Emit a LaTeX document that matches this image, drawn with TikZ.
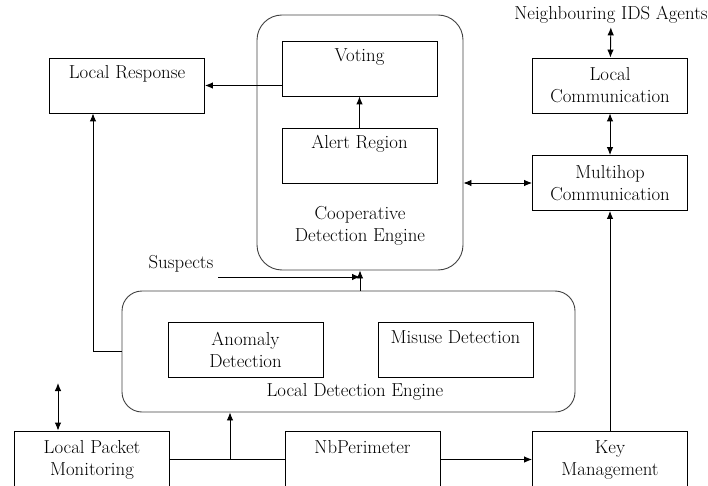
\documentclass[tikz,border=0pt]{standalone}
\usetikzlibrary{positioning, arrows.meta}

\begin{document}
\begin{tikzpicture}[x=1pt, y=-1pt, >={Latex[length=8pt,width=6.5pt]}, line width=0.9pt,
	every node/.style={font=\fontsize{18.8}{22}\selectfont},
	box/.style={draw, rectangle, minimum width=155pt, minimum height=55pt, inner sep=0pt, align=center},
	onel/.style={text height=13pt, text depth=26pt},
	engine/.style={draw=black!75, rectangle, inner sep=0pt}]
	
	\useasboundingbox (0,0) rectangle (708,486);
	\clip (0,0) rectangle (708,486);
	
	\begin{scope}
	\node[engine, minimum width=206pt, minimum height=255pt, rounded corners=25pt] (coop) at (360,142.5) {};
	\node[box, onel] (vote) at (359.5,68.5) {Voting};
	\node[box, onel] (alert) at (359.5,155.5) {Alert Region};
	\node[align=center] (cooptxt) at (360,226) {Cooperative\\Detection Engine};
	
	\node[box, onel] (resp) at (127,85.5) {Local Response};
	\node[box] (lcomm) at (610,85.5) {Local\\Communication};
	\node[box] (multi) at (610,183) {Multihop\\Communication};
	\node (nbr) at (611,15) {Neighbouring IDS Agents};
	\end{scope}
	
	\begin{scope}
	\node[engine, minimum width=453pt, minimum height=121pt, rounded corners=20pt] (lde) at (348.5,351.5) {};
	\node[box] (anom) at (245.5,349.5) {Anomaly\\Detection};
	\node[box, onel] (misuse) at (455.5,349.5) {Misuse Detection};
	\node (ldetxt) at (355,392) {Local Detection Engine};
	\node (susp) at (181,264) {Suspects};
	
	\node[box, minimum height=57pt] (lpm) at (92,459.5) {Local Packet\\Monitoring};
	\node[box, onel, minimum height=57pt] (nbp) at (362.5,459.5) {NbPerimeter};
	\node[box, minimum height=57pt] (key) at (610,459.5) {Key\\Management};
	\end{scope}
	
	\path[->] (alert) edge (vote);
	
	\path[->] (vote.west |- resp.east) edge (resp.east);
	
	\draw[->] (lde.west) -| ([xshift=-34pt]resp.south);
	
	\path[<->] (coop.east |- multi.west) edge (multi.west);
	
	\path[<->] (lcomm) edge (multi);
	
	\path[<->] (lcomm) edge (nbr);
	
	\path[->] (key) edge (multi);
	
	\path[->] (nbp) edge (key);
	
	\draw (lpm) -- (nbp);
	\coordinate (split) at (230,459.5);
	\draw[->] (split) -- (split |- lde.south);
	
	\coordinate (mon) at (58,383);
	\draw[<->] (mon) -- (mon |- lpm.north);
	
	\coordinate (sus) at (218,277);
	\draw[->] (sus) -- (sus -| coop.south);
	\draw[->] (coop.south |- lde.north) -- (coop.south);
\end{tikzpicture}
\end{document}
